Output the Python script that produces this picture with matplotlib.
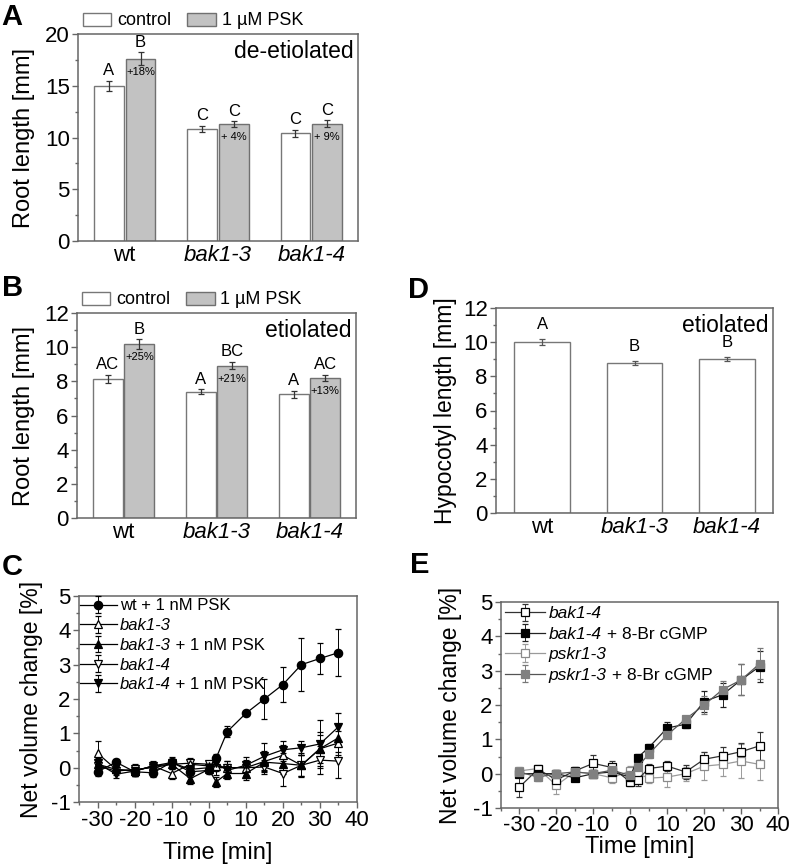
import numpy as np
import matplotlib
matplotlib.use("Agg")
import matplotlib.pyplot as plt
from matplotlib.patches import Patch
from matplotlib.ticker import MultipleLocator

plt.rcParams['font.family'] = ['Liberation Sans', 'DejaVu Sans']
plt.rcParams['axes.unicode_minus'] = False

# ---- data ----
genotypes = ['wt', 'bak1-3', 'bak1-4']

# A: de-etiolated root length
a_ctrl = [14.96, 10.8, 10.4]
a_ctrl_err = [0.48, 0.3, 0.32]
a_psk = [17.62, 11.28, 11.35]
a_psk_err = [0.6, 0.27, 0.3]
a_ctrl_lab = ['A', 'C', 'C']
a_psk_lab = ['B', 'C', 'C']
a_pct = ['+18%', '+ 4%', '+ 9%']

# B: etiolated root length
b_ctrl = [8.16, 7.38, 7.24]
b_ctrl_err = [0.23, 0.15, 0.21]
b_psk = [10.17, 8.92, 8.21]
b_psk_err = [0.29, 0.2, 0.19]
b_ctrl_lab = ['AC', 'A', 'A']
b_psk_lab = ['B', 'BC', 'AC']
b_pct = ['+25%', '+21%', '+13%']

# D: etiolated hypocotyl length
d_val = [10.01, 8.78, 9.01]
d_err = [0.2, 0.14, 0.14]
d_lab = ['A', 'B', 'B']

# C, E: time courses
t = [-30, -25, -20, -15, -10, -5, 0, 2, 5, 10, 15, 20, 25, 30, 35]

wt_psk = [-0.12, 0.16, -0.12, -0.15, 0.16, -0.12, -0.08, 0.28, 1.05, 1.58, 2.0, 2.42, 3.0, 3.18, 3.35]
wt_psk_err = [0.12, 0.1, 0.12, 0.12, 0.15, 0.15, 0.1, 0.12, 0.16, 0.06, 0.58, 0.5, 0.77, 0.44, 0.69]
bak13 = [0.42, -0.05, -0.1, 0.05, -0.17, 0.1, 0.05, 0.05, 0.0, 0.0, 0.18, 0.36, 0.07, 0.55, 0.72]
bak13_err = [0.35, 0.1, 0.15, 0.12, 0.15, 0.12, 0.1, 0.15, 0.2, 0.2, 0.3, 0.3, 0.3, 0.4, 0.35]
bak13_psk = [0.1, -0.05, -0.1, 0.05, 0.1, -0.32, -0.05, -0.41, -0.17, -0.17, 0.16, 0.12, 0.07, 0.55, 0.87]
bak13_psk_err = [0.15, 0.1, 0.15, 0.15, 0.15, 0.15, 0.1, 0.15, 0.15, 0.2, 0.25, 0.3, 0.35, 0.5, 0.4]
bak14 = [0.05, -0.1, -0.05, 0.0, 0.1, 0.13, 0.1, 0.0, 0.0, 0.0, 0.02, -0.17, 0.07, 0.22, 0.19]
bak14_err = [0.15, 0.1, 0.15, 0.1, 0.15, 0.15, 0.1, 0.2, 0.2, 0.3, 0.2, 0.35, 0.3, 0.4, 0.5]
bak14_psk = [0.13, -0.19, -0.1, 0.05, 0.15, -0.05, 0.0, 0.14, -0.08, 0.07, 0.33, 0.52, 0.58, 0.69, 1.19]
bak14_psk_err = [0.15, 0.1, 0.15, 0.1, 0.1, 0.12, 0.1, 0.15, 0.2, 0.15, 0.4, 0.25, 0.2, 0.7, 0.4]

e_bak14 = [-0.39, 0.13, -0.18, 0.08, 0.3, 0.18, -0.24, -0.17, 0.15, 0.22, 0.05, 0.42, 0.52, 0.64, 0.81]
e_bak14_err = [0.3, 0.1, 0.2, 0.12, 0.25, 0.2, 0.12, 0.2, 0.12, 0.15, 0.2, 0.2, 0.25, 0.25, 0.4]
e_bak14_cg = [0.0, 0.0, 0.0, -0.12, 0.0, 0.05, -0.1, 0.47, 0.76, 1.33, 1.44, 2.1, 2.3, 2.73, 3.12]
e_bak14_cg_err = [0.1, 0.1, 0.1, 0.1, 0.1, 0.1, 0.1, 0.1, 0.1, 0.18, 0.1, 0.3, 0.35, 0.45, 0.45]
e_pskr = [0.08, 0.15, -0.34, 0.05, 0.0, -0.12, 0.08, 0.0, -0.13, -0.1, 0.0, 0.22, 0.27, 0.37, 0.27]
e_pskr_err = [0.1, 0.1, 0.25, 0.15, 0.1, 0.15, 0.15, 0.2, 0.15, 0.3, 0.2, 0.4, 0.35, 0.5, 0.45]
e_pskr_cg = [0.05, -0.1, 0.0, 0.05, 0.0, 0.1, -0.05, 0.2, 0.57, 1.13, 1.59, 2.0, 2.45, 2.73, 3.2]
e_pskr_cg_err = [0.1, 0.1, 0.1, 0.1, 0.1, 0.1, 0.1, 0.12, 0.1, 0.1, 0.1, 0.25, 0.25, 0.45, 0.45]

W, H = 793, 868
fig = plt.figure(figsize=(W / 100, H / 100), dpi=100)
fig.patch.set_facecolor('white')

SP = '#666666'
TICK = 16
LAB = 17


def add_ax(l, t_, r, b):
    return fig.add_axes([l / W, 1 - b / H, (r - l) / W, (b - t_) / H])


def style(ax):
    for s in ax.spines.values():
        s.set_color(SP)
        s.set_linewidth(1.1)
    ax.tick_params(which='both', direction='out', color=SP, labelsize=TICK, width=1.0)
    ax.tick_params(which='major', length=4.5, pad=1.5)
    ax.tick_params(which='minor', length=2.5)


def bar_panel(ax, ctrl, ctrl_err, psk, psk_err, ctrl_lab, psk_lab, pct, ymax, step, ylabel, note):
    x = np.arange(1, 4)
    w = 0.32
    ekw = dict(ecolor='#333333', elinewidth=0.9, capsize=2.5, capthick=0.9)
    ax.bar(x - 0.17, ctrl, w, yerr=ctrl_err, color='white', edgecolor='#777777', linewidth=1.0, error_kw=ekw)
    ax.bar(x + 0.17, psk, w, yerr=psk_err, color='#c2c2c2', edgecolor='#707070', linewidth=1.0, error_kw=ekw)
    for i in range(3):
        ax.annotate(ctrl_lab[i], (x[i] - 0.17, ctrl[i] + ctrl_err[i]), xytext=(0, 2), textcoords='offset points',
                    ha='center', va='bottom', fontsize=12)
        ax.annotate(psk_lab[i], (x[i] + 0.17, psk[i] + psk_err[i]), xytext=(0, 2), textcoords='offset points',
                    ha='center', va='bottom', fontsize=12)
        ax.annotate(pct[i], (x[i] + 0.17, psk[i]), xytext=(0, -9.5), textcoords='offset points',
                    ha='center', va='center', fontsize=8)
    ax.set_xlim(0.5, 3.5)
    ax.set_ylim(0, ymax)
    ax.yaxis.set_major_locator(MultipleLocator(step))
    ax.yaxis.set_minor_locator(MultipleLocator(step / 2))
    ax.set_xticks(x)
    ax.set_xticklabels(genotypes)
    ax.tick_params(axis='x', which='both', length=0, pad=3)
    for lab in ax.get_xticklabels()[1:]:
        lab.set_fontstyle('italic')
    ax.set_ylabel(ylabel, fontsize=LAB)
    ax.text(0.985, 0.97, note, transform=ax.transAxes, ha='right', va='top', fontsize=16.5)
    handles = [Patch(facecolor='white', edgecolor='#777777', label='control'),
               Patch(facecolor='#c2c2c2', edgecolor='#707070', label='1 µM PSK')]
    ax.legend(handles=handles, loc='lower left', bbox_to_anchor=(0.0, 1.0), ncol=2, frameon=False,
              borderaxespad=0.15, borderpad=0.1, handlelength=1.6, handleheight=0.75,
              handletextpad=0.3, columnspacing=0.9, fontsize=13)


# A
axA = add_ax(78, 34, 358, 241)
style(axA)
bar_panel(axA, a_ctrl, a_ctrl_err, a_psk, a_psk_err, a_ctrl_lab, a_psk_lab, a_pct, 20, 5,
          'Root length [mm]', 'de-etiolated')
axA.yaxis.set_label_coords(-0.154, 0.5)

# B
axB = add_ax(77, 313, 356, 518)
style(axB)
bar_panel(axB, b_ctrl, b_ctrl_err, b_psk, b_psk_err, b_ctrl_lab, b_psk_lab, b_pct, 12, 2,
          'Root length [mm]', 'etiolated')
axB.yaxis.set_label_coords(-0.15, 0.5)

# D
axD = add_ax(496, 308, 773, 513)
style(axD)
xd = np.arange(1, 4)
axD.bar(xd, d_val, 0.6, yerr=d_err, color='white', edgecolor='#777777', linewidth=1.0,
        error_kw=dict(ecolor='#555555', elinewidth=0.9, capsize=2.5, capthick=0.9))
for i in range(3):
    axD.annotate(d_lab[i], (xd[i], d_val[i] + d_err[i]), xytext=(0, 4.5), textcoords='offset points',
                 ha='center', va='bottom', fontsize=12)
axD.set_xlim(0.5, 3.5)
axD.set_ylim(0, 12)
axD.yaxis.set_major_locator(MultipleLocator(2))
axD.yaxis.set_minor_locator(MultipleLocator(1))
axD.set_xticks(xd)
axD.set_xticklabels(genotypes)
axD.tick_params(axis='x', which='both', length=0, pad=3)
for lab in axD.get_xticklabels()[1:]:
    lab.set_fontstyle('italic')
axD.set_ylabel('Hypocotyl length [mm]', fontsize=16.5)
axD.yaxis.set_label_coords(-0.141, 0.5)
axD.text(0.985, 0.97, 'etiolated', transform=axD.transAxes, ha='right', va='top', fontsize=16.5)


def line_style(ax):
    ax.set_xlim(-35, 40)
    ax.set_ylim(-1, 5)
    ax.xaxis.set_major_locator(MultipleLocator(10))
    ax.xaxis.set_minor_locator(MultipleLocator(5))
    ax.yaxis.set_major_locator(MultipleLocator(1))
    ax.yaxis.set_minor_locator(MultipleLocator(0.5))
    ax.set_ylabel('Net volume change [%]', fontsize=16.5)
    ax.set_xlabel('Time [min]', fontsize=LAB)


def series(ax, y, err, marker, mfc, mec, lc, label, ms=6, ecol=None):
    ax.errorbar(t, y, yerr=err, marker=marker, ms=ms, mfc=mfc, mec=mec, mew=0.9, color=lc, lw=0.9,
                ecolor=ecol or lc, elinewidth=0.7, capsize=2, capthick=0.7, label=label)


def legend_with_suffix(ax, handles, names, italic, suffix, fs, **kw):
    leg = ax.legend(handles, names, loc='upper left', frameon=False, fontsize=fs, **kw)
    for txt, it, suf in zip(leg.get_texts(), italic, suffix):
        if it:
            txt.set_fontstyle('italic')
        if suf:
            # drawn after the legend so the italic name already has its place
            ax.annotate(suf, xy=(1, 0), xycoords=txt, ha='left', va='bottom', fontsize=fs, zorder=10)
    return leg


# C
axC = add_ax(79, 596, 357, 802)
style(axC)
series(axC, bak14, bak14_err, 'v', 'white', 'black', 'black', 'bak1-4')
series(axC, bak13, bak13_err, '^', 'white', 'black', 'black', 'bak1-3')
series(axC, bak13_psk, bak13_psk_err, '^', 'black', 'black', 'black', 'bak1-3 psk')
series(axC, bak14_psk, bak14_psk_err, 'v', 'black', 'black', 'black', 'bak1-4 psk')
series(axC, wt_psk, wt_psk_err, 'o', 'black', 'black', 'black', 'wt psk')
line_style(axC)
axC.yaxis.set_label_coords(-0.13, 0.5)
axC.xaxis.set_label_coords(0.5, -0.195)
hC, _ = axC.get_legend_handles_labels()
legend_with_suffix(axC, [hC[4], hC[1], hC[2], hC[0], hC[3]],
                   ['wt + 1 nM PSK', 'bak1-3', 'bak1-3', 'bak1-4', 'bak1-4'],
                   [False, True, True, True, True],
                   ['', '', ' + 1 nM PSK', '', ' + 1 nM PSK'], 12,
                   bbox_to_anchor=(-0.005, 1.0), handlelength=2.2, handletextpad=0.2,
                   labelspacing=0.28, borderaxespad=0.05, borderpad=0.1)

# E
axE = add_ax(501, 602, 778, 808)
style(axE)
series(axE, e_pskr, e_pskr_err, 's', 'white', '#8a8a8a', '#9a9a9a', 'pskr1-3', ms=5.5)
series(axE, e_bak14, e_bak14_err, 's', 'white', 'black', '#333333', 'bak1-4', ms=5.5)
series(axE, e_bak14_cg, e_bak14_cg_err, 's', 'black', 'black', '#222222', 'bak1-4 cg', ms=5.5)
series(axE, e_pskr_cg, e_pskr_cg_err, 's', '#808080', '#808080', '#555555', 'pskr1-3 cg', ms=5.5,
       ecol='#777777')
line_style(axE)
axE.tick_params(axis='x', which='major', pad=0.5)
axE.yaxis.set_label_coords(-0.141, 0.5)
axE.xaxis.set_label_coords(0.5, -0.135)
hE, _ = axE.get_legend_handles_labels()
legend_with_suffix(axE, [hE[1], hE[2], hE[0], hE[3]],
                   ['bak1-4', 'bak1-4', 'pskr1-3', 'pskr1-3'],
                   [True, True, True, True],
                   ['', ' + 8-Br cGMP', '', ' + 8-Br cGMP'], 12.5,
                   bbox_to_anchor=(0.0, 1.0), handlelength=2.3, handletextpad=0.2,
                   labelspacing=0.3, borderaxespad=0.15, borderpad=0.1)

# panel letters
for letter, x, y in [('A', 12, 17), ('B', 13, 288), ('C', 12, 567), ('D', 419, 290), ('E', 420, 565)]:
    fig.text(x / W, 1 - y / H, letter, fontsize=21, fontweight='bold', ha='center', va='center')

fig.savefig('out.png', dpi=100, facecolor='white')
